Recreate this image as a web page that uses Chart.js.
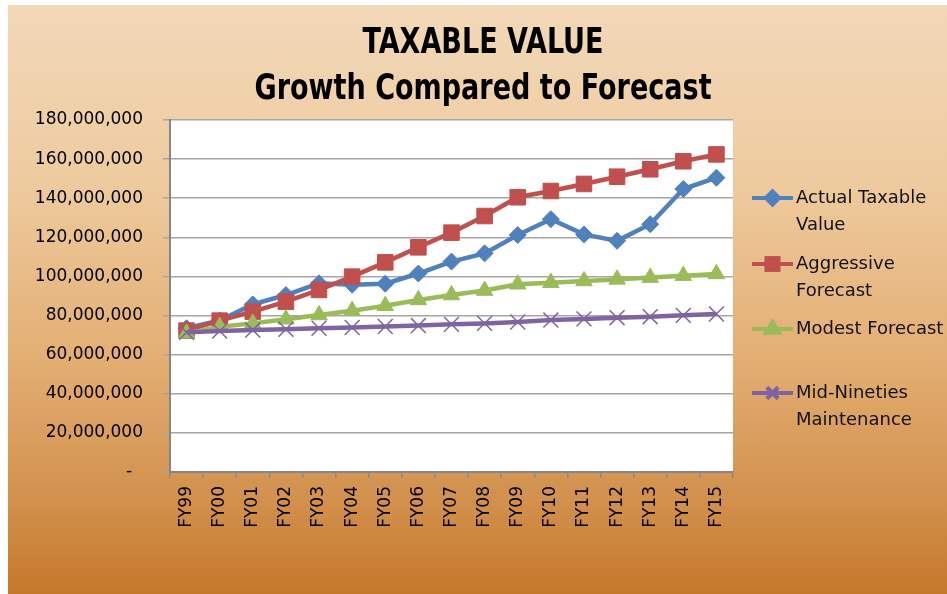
<!DOCTYPE html>
<html>
<head>
<meta charset="utf-8">
<title>Taxable Value</title>
<script src="https://cdn.jsdelivr.net/npm/chart.js@4/dist/chart.umd.min.js"></script>
<style>
  html, body { margin: 0; padding: 0; background: #fff; }
  #wrap {
    position: absolute; left: 8px; top: 5px; width: 939px; height: 589px;
    background: linear-gradient(to bottom, #f2d8b9 0%, #eecb9f 30%, #e2ac70 62%, #d18f4b 85%, #c4782a 100%);
  }
  #taxable { display: block; }
</style>
</head>
<body>
<div id="wrap"><canvas id="taxable" width="939" height="589"></canvas></div>
<script>
(function () {
  "use strict";

  // values in millions
  var years = ["FY99", "FY00", "FY01", "FY02", "FY03", "FY04", "FY05", "FY06", "FY07",
               "FY08", "FY09", "FY10", "FY11", "FY12", "FY13", "FY14", "FY15"];
  var actualValue = [73.5, 77.5, 85.7, 90.5, 96.5, 95.8, 96.3, 101.5, 107.6, 111.8, 121.2, 129.3, 121.5, 118.2, 126.7, 144.7, 150.5];
  var aggressiveForecast = [72.3, 77.4, 82.0, 87.1, 93.1, 99.9, 107.2, 114.9, 122.4, 130.9, 140.5, 143.7, 147.3, 151.0, 154.8, 158.9, 162.4];
  var modestForecast = [70.9, 74.3, 76.0, 78.1, 80.3, 82.5, 85.0, 88.0, 90.5, 92.8, 96.0, 96.8, 97.7, 98.5, 99.4, 100.4, 101.3];
  var midNineties = [71.4, 72.1, 72.6, 73.0, 73.5, 73.9, 74.4, 74.9, 75.5, 76.0, 76.7, 77.7, 78.3, 78.9, 79.4, 80.1, 80.8];
  var titleLines = ["TAXABLE VALUE", "Growth Compared to Forecast"];
  var legendLines = [["Actual Taxable", "Value"], ["Aggressive", "Forecast"], ["Modest Forecast"], ["Mid-Nineties", "Maintenance"]];

  var mil = function (arr) { return arr.map(function (v) { return v * 1000000; }); };
  var font = "'DejaVu Sans', Tahoma, sans-serif";

  // white plot area, title and a legend with wrapped labels
  var decor = {
    id: "decor",
    beforeDraw: function (chart) {
      var a = chart.chartArea, ctx = chart.ctx;
      ctx.save();
      ctx.fillStyle = "#ffffff";
      ctx.fillRect(a.left, a.top, a.right - a.left, a.bottom - a.top);
      ctx.restore();
    },
    afterDraw: function (chart) {
      var ctx = chart.ctx;
      ctx.save();
      ctx.fillStyle = "#000";
      ctx.textAlign = "center";
      ctx.textBaseline = "middle";
      ctx.font = "bold 36px 'Liberation Sans Narrow', 'DejaVu Sans Condensed', sans-serif";
      [39, 85].forEach(function (y, i) {
        ctx.save();
        ctx.translate(475, y);
        ctx.scale(0.835, 1);
        ctx.fillText(titleLines[i], 0, 0);
        ctx.restore();
      });

      var rows = [193, 259, 324, 388];
      ctx.textAlign = "left";
      ctx.font = "18px " + font;
      chart.data.datasets.forEach(function (ds, i) {
        var y = rows[i];
        ctx.strokeStyle = ds.borderColor;
        ctx.lineWidth = 4;
        ctx.beginPath();
        ctx.moveTo(744, y);
        ctx.lineTo(785, y);
        ctx.stroke();
        Chart.helpers.drawPoint(ctx, {
          pointStyle: ds.pointStyle,
          radius: ds.pointRadius * 0.75,
          borderWidth: ds.pointBorderWidth,
          rotation: 0
        }, 764.5, y);
        if (ds.pointStyle !== "crossRot") {
          ctx.fillStyle = ds.backgroundColor;
          ctx.fill();
        }
        ctx.stroke();
        ctx.fillStyle = "#111";
        legendLines[i].forEach(function (t, k) {
          ctx.fillText(t, 788, y + k * 27);
        });
      });
      ctx.restore();
    }
  };

  function series(label, data, color, style, radius, order) {
    return {
      label: label,
      data: mil(data),
      borderColor: color,
      backgroundColor: color,
      borderWidth: 4.5,
      pointStyle: style,
      pointRadius: radius,
      pointBorderWidth: style === "crossRot" ? 1.5 : 1,
      pointBorderColor: color,
      pointBackgroundColor: color,
      tension: 0,
      order: order
    };
  }

  var ctx = document.getElementById("taxable").getContext("2d");
  var taxChart = new Chart(ctx, {
    type: "line",
    data: {
      labels: years,
      datasets: [
        series("Actual Taxable Value", actualValue, "#4f81bd", "rectRot", 8.5, 3),
        series("Aggressive Forecast", aggressiveForecast, "#c0504d", "rect", 11, 2),
        series("Modest Forecast", modestForecast, "#9bbb59", "triangle", 9.5, 1),
        series("Mid-Nineties Maintenance", midNineties, "#8064a2", "crossRot", 10.5, 0)
      ]
    },
    options: {
      responsive: false,
      animation: false,
      layout: { padding: { top: 115, right: 214, left: 0, bottom: 0 } },
      plugins: {
        legend: { display: false },
        title: { display: false },
        tooltip: { enabled: false }
      },
      scales: {
        x: {
          offset: true,
          afterFit: function (s) { s.height = 122; },
          grid: { offset: true, drawOnChartArea: false, tickLength: 6, color: "#8a8a8a", lineWidth: 1.5 },
          border: { color: "#868686", width: 2 },
          ticks: { minRotation: 90, maxRotation: 90, padding: 8, color: "#000", font: { family: font, size: 17 } }
        },
        y: {
          min: 0,
          max: 180000000,
          afterFit: function (s) { s.width = 162; },
          grid: { color: "#a6a6a6", lineWidth: 1.5, tickLength: 7 },
          border: { color: "#868686", width: 2 },
          ticks: {
            stepSize: 20000000,
            padding: 20,
            color: "#000",
            font: { family: font, size: 17 },
            callback: function (v) { return v === 0 ? "-  " : v.toLocaleString("en-US"); }
          }
        }
      }
    },
    plugins: [decor]
  });
})();
</script>
</body>
</html>
